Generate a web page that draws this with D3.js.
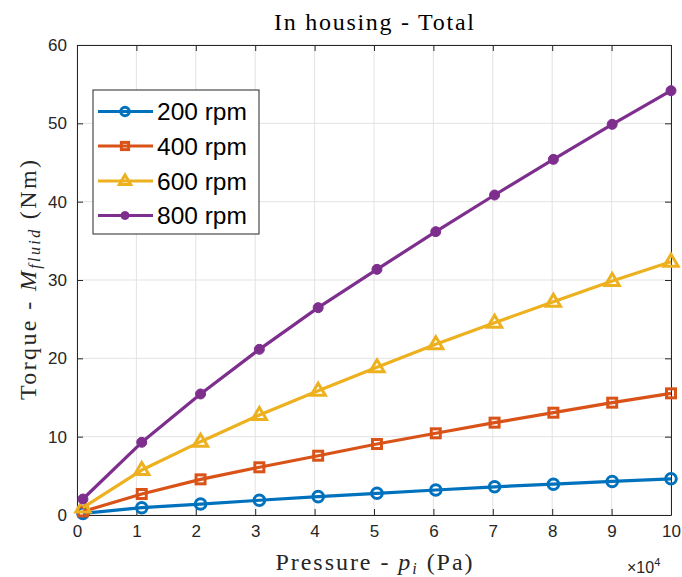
<!DOCTYPE html>
<html>
<head>
<meta charset="utf-8">
<script src="https://cdn.jsdelivr.net/npm/d3@7"></script>
<style>
body{margin:0;background:#fff;}
svg{display:block;}
</style>
</head>
<body>
<script>
const pressure = [0.1, 1.09, 2.08, 3.07, 4.06, 5.05, 6.04, 7.03, 8.02, 9.01, 10];
const rpm200 = [0.21, 0.93, 1.40, 1.88, 2.34, 2.77, 3.19, 3.60, 3.93, 4.28, 4.62];
const rpm400 = [0.45, 2.68, 4.55, 6.09, 7.57, 9.06, 10.43, 11.79, 13.06, 14.34, 15.53];
const rpm600 = [0.95, 5.74, 9.36, 12.77, 15.87, 18.85, 21.79, 24.55, 27.23, 29.87, 32.34];
const rpm800 = [2.04, 9.28, 15.45, 21.15, 26.47, 31.36, 36.17, 40.85, 45.4, 49.87, 54.17];
const seriesNames = ["200 rpm", "400 rpm", "600 rpm", "800 rpm"];
const seriesValues = [rpm200, rpm400, rpm600, rpm800];
const seriesColors = ["#0072BD", "#D95319", "#EDB120", "#7E2F8E"];
const seriesMarkers = ["circle", "square", "triangle", "dot"];
const xTicks = [0,1,2,3,4,5,6,7,8,9,10];
const yTicks = [0,10,20,30,40,50,60];

const W = 682, H = 577;
const m = {l:77, r:11, t:45, b:62};
const svg = d3.select("body").append("svg").attr("width", W).attr("height", H);
const x = d3.scaleLinear().domain([0,10]).range([m.l, W - m.r]);
const y = d3.scaleLinear().domain([0,60]).range([H - m.b, m.t]);

// grid
const g = svg.append("g");
g.selectAll(".gx").data(xTicks).enter().append("line")
  .attr("x1", d=>x(d)).attr("x2", d=>x(d)).attr("y1", y(0)).attr("y2", y(60))
  .attr("stroke", "#e3e3e3").attr("stroke-width", 1);
g.selectAll(".gy").data(yTicks).enter().append("line")
  .attr("y1", d=>y(d)).attr("y2", d=>y(d)).attr("x1", x(0)).attr("x2", x(10))
  .attr("stroke", "#e3e3e3").attr("stroke-width", 1);

// axes
const axCol = "#262626";
const fontSans = "'Liberation Sans', Arial, sans-serif";
const fontSerif = "'Liberation Serif', 'DejaVu Serif', serif";
function styleAxis(sel){
  sel.select(".domain").attr("stroke", axCol).attr("stroke-width", 1);
  sel.selectAll(".tick line").attr("stroke", axCol);
  sel.selectAll(".tick text").attr("fill", axCol).style("font-family", fontSans).style("font-size", "17px");
}
const xb = svg.append("g").attr("transform", `translate(0,${y(0)})`)
  .call(d3.axisBottom(x).tickValues(xTicks).tickSize(-6).tickSizeOuter(0).tickPadding(10).tickFormat(d3.format("d")));
styleAxis(xb);
const xt = svg.append("g").attr("transform", `translate(0,${y(60)})`)
  .call(d3.axisTop(x).tickValues(xTicks).tickSize(-6).tickSizeOuter(0).tickFormat(""));
styleAxis(xt);
const yl = svg.append("g").attr("transform", `translate(${x(0)},0)`)
  .call(d3.axisLeft(y).tickValues(yTicks).tickSize(-6).tickSizeOuter(0).tickPadding(10).tickFormat(d3.format("d")));
styleAxis(yl);
const yr = svg.append("g").attr("transform", `translate(${x(10)},0)`)
  .call(d3.axisRight(y).tickValues(yTicks).tickSize(-6).tickSizeOuter(0).tickFormat(""));
styleAxis(yr);

// series
function drawMarker(sel, type, color, cx, cy, scale){
  scale = scale || 1;
  if(type==="circle"){
    sel.append("circle").attr("cx",cx).attr("cy",cy).attr("r",5.3*scale)
      .attr("fill","none").attr("stroke",color).attr("stroke-width",3);
  } else if(type==="square"){
    const s=4.5*scale;
    sel.append("rect").attr("x",cx-s).attr("y",cy-s).attr("width",2*s).attr("height",2*s)
      .attr("fill","none").attr("stroke",color).attr("stroke-width",3);
  } else if(type==="triangle"){
    const s=7.5*scale;
    sel.append("path").attr("d",`M${cx},${cy-s}L${cx+s*0.95},${cy+s*0.6}L${cx-s*0.95},${cy+s*0.6}Z`)
      .attr("fill","none").attr("stroke",color).attr("stroke-width",3).attr("stroke-linejoin","miter");
  } else {
    sel.append("circle").attr("cx",cx).attr("cy",cy).attr("r",5*scale)
      .attr("fill",color).attr("stroke",color).attr("stroke-width",1);
  }
}
const line = d3.line().x((d,i)=>x(pressure[i])).y(d=>y(d));
seriesValues.forEach((vals, k)=>{
  const sg = svg.append("g");
  sg.append("path").datum(vals).attr("d", line).attr("fill","none")
    .attr("stroke", seriesColors[k]).attr("stroke-width", 3.2).attr("stroke-linejoin","round");
  vals.forEach((v,i)=> drawMarker(sg, seriesMarkers[k], seriesColors[k], x(pressure[i]), y(v)));
});

// legend
const lg = svg.append("g");
lg.append("rect").attr("x",93).attr("y",90).attr("width",166).attr("height",144)
  .attr("fill","#fff").attr("stroke","#262626").attr("stroke-width",1);
const rowY = [111.5, 146, 181, 215.5];
seriesNames.forEach((n,k)=>{
  lg.append("line").attr("x1",98).attr("x2",153).attr("y1",rowY[k]).attr("y2",rowY[k])
    .attr("stroke",seriesColors[k]).attr("stroke-width",3.2);
  drawMarker(lg, seriesMarkers[k], seriesColors[k], 125, rowY[k], 0.8);
  lg.append("text").attr("x",157).attr("y",rowY[k]).attr("dy","0.36em")
    .style("font-family",fontSans).style("font-size","24.5px").attr("fill","#000").text(n);
});

// title
svg.append("text").attr("x",(x(0)+x(10))/2).attr("y",30).attr("text-anchor","middle")
  .attr("textLength",200).attr("lengthAdjust","spacing")
  .style("font-family",fontSerif).style("font-size","24px").attr("fill","#000").text("In housing - Total");

// x label
const xlab = svg.append("text").attr("x",(x(0)+x(10))/2).attr("y",570).attr("text-anchor","middle")
  .attr("textLength",197).attr("lengthAdjust","spacing")
  .style("font-family",fontSerif).style("font-size","24px").attr("fill","#262626");
xlab.append("tspan").text("Pressure - ");
xlab.append("tspan").style("font-style","italic").text("p");
xlab.append("tspan").style("font-style","italic").style("font-size","16px").attr("dy",4).text("i");
xlab.append("tspan").attr("dy",-4).text(" (Pa)");

// x exponent
const ex = svg.append("text").attr("x",627).attr("y",573)
  .style("font-family",fontSans).style("font-size","16px").attr("fill","#262626");
ex.append("tspan").text("\u00d710");
ex.append("tspan").style("font-size","11px").attr("dy",-7).text("4");

// y label
const ylab = svg.append("text").attr("transform",`translate(36,${(y(0)+y(60))/2}) rotate(-90)`)
  .attr("text-anchor","middle").attr("textLength",240).attr("lengthAdjust","spacing")
  .style("font-family",fontSerif).style("font-size","24px").attr("fill","#262626");
ylab.append("tspan").text("Torque - ");
ylab.append("tspan").style("font-style","italic").text("M");
ylab.append("tspan").style("font-style","italic").style("font-size","16px").attr("dy",4).text("fluid");
ylab.append("tspan").attr("dy",-4).text(" (Nm)");
</script>
</body>
</html>
